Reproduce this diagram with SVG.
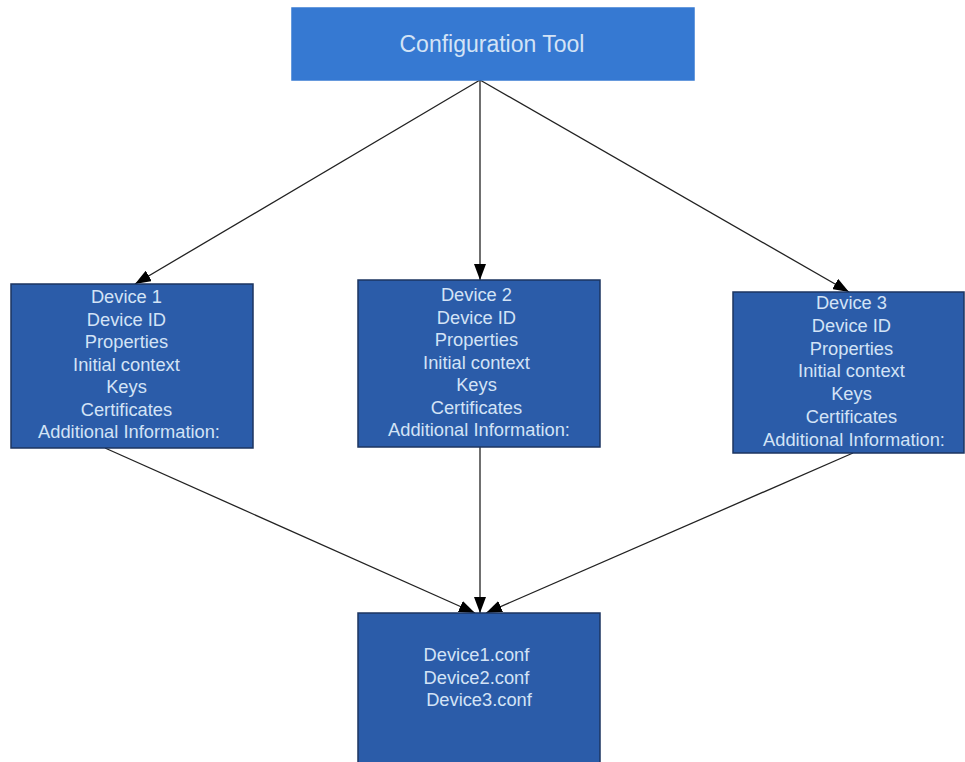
<svg xmlns="http://www.w3.org/2000/svg" width="965" height="762" viewBox="0 0 965 762">
  <defs>
    <marker id="arrow" viewBox="0 0 16 12" refX="16" refY="6" markerWidth="16" markerHeight="12" markerUnits="userSpaceOnUse" orient="auto">
      <path d="M0,0 L16,6 L0,12 Z" fill="#000"/>
    </marker>
    <style>
      .box { fill: #2b5ca9; stroke: #1d3560; stroke-width: 1.5; }
      .top { fill: #3679d2; stroke: #3679d2; }
      .lbl { font-family: "Liberation Sans", Arial, sans-serif; font-size: 18.3px; fill: #d3e3f6; text-anchor: middle; }
      .title { font-size: 23px; }
      .conn { stroke: #222; stroke-width: 1.3; fill: none; marker-end: url(#arrow); }
    </style>
  </defs>
  <rect width="965" height="762" fill="#fff"/>

  <g id="connectors">
    <line class="conn" x1="480" y1="80" x2="135" y2="284"/>
    <line class="conn" x1="480" y1="80" x2="480" y2="280"/>
    <line class="conn" x1="480" y1="80" x2="849" y2="292"/>
    <line class="conn" x1="105" y1="448" x2="475" y2="613"/>
    <line class="conn" x1="480" y1="447" x2="480" y2="613"/>
    <line class="conn" x1="853" y1="453" x2="486" y2="613"/>
  </g>

  <g id="config-tool">
    <rect class="box top" x="292" y="8" width="402" height="72"/>
    <text class="lbl title" x="492" y="52">Configuration Tool</text>
  </g>

  <g id="device1">
    <rect class="box" x="11" y="284" width="242" height="164"/>
    <text class="lbl" x="129" y="303">
      <tspan x="129" dy="0">Device 1</tspan>
      <tspan x="129" dy="22.5">Device ID</tspan>
      <tspan x="129" dy="22.5">Properties</tspan>
      <tspan x="129" dy="22.5">Initial context</tspan>
      <tspan x="129" dy="22.5">Keys</tspan>
      <tspan x="129" dy="22.5">Certificates</tspan>
      <tspan x="129" dy="22.5">Additional Information:</tspan>
    </text>
  </g>

  <g id="device2">
    <rect class="box" x="358" y="280" width="242" height="167"/>
    <text class="lbl" x="479" y="301">
      <tspan x="479" dy="0">Device 2</tspan>
      <tspan x="479" dy="22.5">Device ID</tspan>
      <tspan x="479" dy="22.5">Properties</tspan>
      <tspan x="479" dy="22.5">Initial context</tspan>
      <tspan x="479" dy="22.5">Keys</tspan>
      <tspan x="479" dy="22.5">Certificates</tspan>
      <tspan x="479" dy="22.5">Additional Information:</tspan>
    </text>
  </g>

  <g id="device3">
    <rect class="box" x="733" y="292" width="231" height="161"/>
    <text class="lbl" x="854" y="309">
      <tspan x="854" dy="0">Device 3</tspan>
      <tspan x="854" dy="22.8">Device ID</tspan>
      <tspan x="854" dy="22.8">Properties</tspan>
      <tspan x="854" dy="22.8">Initial context</tspan>
      <tspan x="854" dy="22.8">Keys</tspan>
      <tspan x="854" dy="22.8">Certificates</tspan>
      <tspan x="854" dy="22.8">Additional Information:</tspan>
    </text>
  </g>

  <g id="conf-files">
    <rect class="box" x="358" y="613" width="242" height="160"/>
    <text class="lbl" x="479" y="661">
      <tspan x="479" dy="0">Device1.conf</tspan>
      <tspan x="479" dy="22.5">Device2.conf</tspan>
      <tspan x="479" dy="22.5">Device3.conf</tspan>
    </text>
  </g>
</svg>
